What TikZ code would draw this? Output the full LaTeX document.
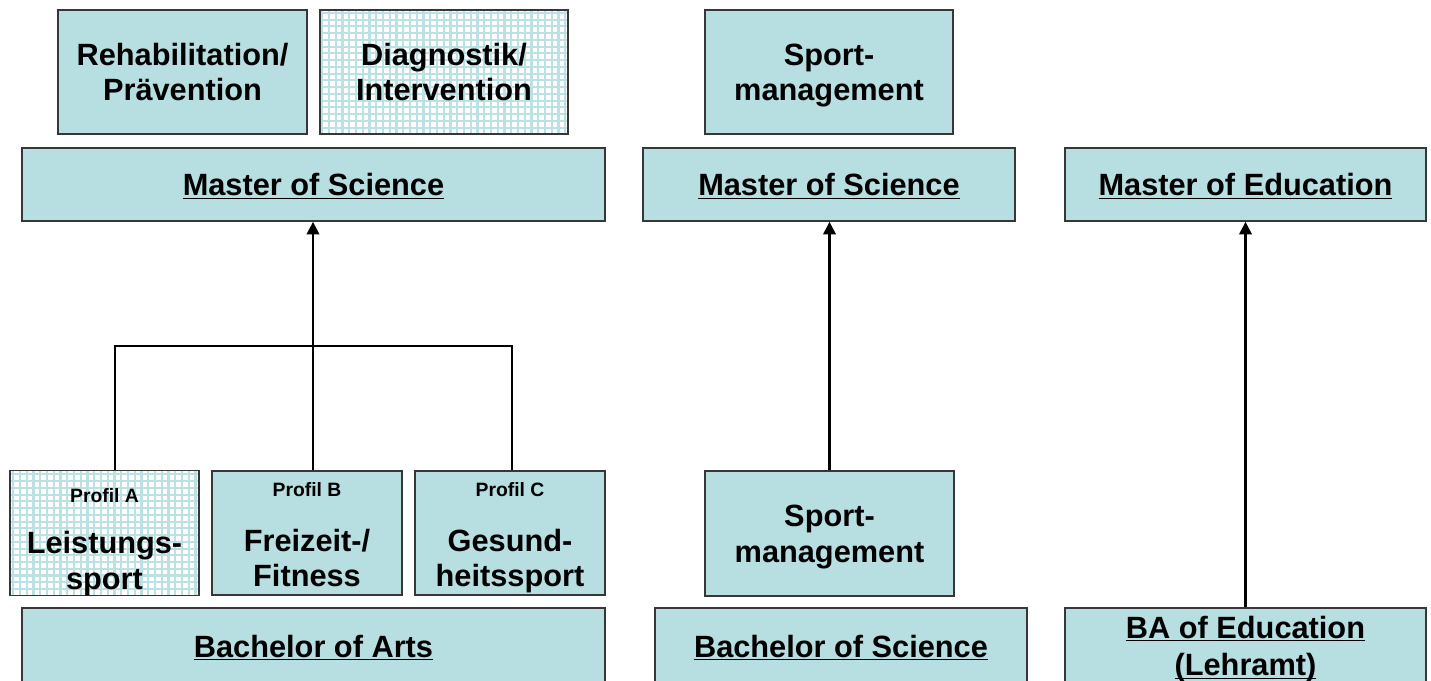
\documentclass[tikz,border=0pt]{standalone}
\usepackage{fontspec}
\setmainfont{Liberation Sans}
\usetikzlibrary{arrows.meta}
\definecolor{boxfill}{RGB}{183,222,225}
\definecolor{boxline}{RGB}{55,55,55}
\definecolor{gridline}{RGB}{188,225,228}
\newcommand{\bigfont}{\fontsize{17.5}{20}\selectfont\bfseries\lineskiplimit=-100pt}
\newcommand{\tagfont}{\fontsize{11}{13}\selectfont\bfseries}
% line strut, so that every line sits as in a slide text box
\newcommand{\ls}{\rule[-0.212em]{0pt}{1.14em}}
% underline close to the baseline, also under descenders
\newcommand{\ul}[1]{\underline{\smash{#1}}}
\tikzset{
        degree/.style={draw=boxline, line width=1pt, fill=boxfill, align=center, inner sep=0pt, font=\bigfont},
        checkered/.style={fill=white, path picture={\draw[gridline, line width=1.2pt] (path picture bounding box.south west) grid[step=0.135cm] (path picture bounding box.north east);}},
        topbox/.style={degree, minimum width=4.97cm, minimum height=2.48cm},
        masterbox/.style={degree, minimum height=1.46cm},
        profbox/.style={degree, minimum width=3.8cm, minimum height=2.48cm},
        bachbox/.style={degree, minimum height=1.52cm},
        connect/.style={draw=black, line width=1.3pt},
        lead/.style={connect, -{Triangle[width=0.25cm,length=0.25cm]}}
          }
\begin{document}
\begin{tikzpicture}[x=0.02cm,y=-0.02cm]
        \useasboundingbox (0,0) rectangle (1431,680);
        % specialisations
        \node[topbox] (reha) at (182.5,72) {\ls Rehabilitation/\\\ls Prävention};
        \node[topbox, checkered] (diag) at (444,72) {\ls Diagnostik/\\\ls Intervention};
        \node[topbox] (smtop) at (829,72) {\ls Sport-\\\ls management};
        % master degrees
        \node[masterbox, minimum width=11.66cm] (msc1) at (313.5,184.5) {\ls\ul{Master of Science}};
        \node[masterbox, minimum width=7.44cm] (msc2) at (829,184.5) {\ls\ul{Master of Science}};
        \node[masterbox, minimum width=7.22cm] (med) at (1245.5,184.5) {\ls\ul{Master of Education}};
        % profiles
        \node[profbox, checkered, minimum width=3.78cm] (profA) at (104.5,533) {{\tagfont\rule{0pt}{18pt}Profil A}\\[9.5pt]\ls Leistungs-\\\ls sport};
        \node[profbox] (profB) at (307,533) {{\tagfont\rule{0pt}{13pt}Profil B}\\[11.2pt]\ls Freizeit-/\\\ls Fitness};
        \node[profbox] (profC) at (510,533) {{\tagfont\rule{0pt}{13pt}Profil C}\\[11.2pt]\ls Gesund-\\\ls heitssport};
        \node[topbox, minimum width=4.98cm, minimum height=2.5cm] (smbot) at (829.5,533.5) {\ls Sport-\\\ls management};
        % bachelor degrees
        \node[bachbox, minimum width=11.66cm] (ba) at (313.5,646) {\ls\ul{Bachelor of Arts}};
        \node[bachbox, minimum width=7.44cm] (bsc) at (841,646) {\ls\ul{Bachelor of Science}};
        \node[bachbox, minimum width=7.22cm] (baed) at (1245.5,646) {\ls\ul{BA of Education}\\[1.6pt]\ls\ul{(Lehramt)}};
        % connectors
        \coordinate (split) at (313,346);
        \draw[connect] ([xshift=0.21cm]profA.north) |- (split) -| ([xshift=0.04cm]profC.north);
        \draw[lead] ([xshift=0.12cm]profB.north) -- ([xshift=0.12cm]profB.north |- msc1.south);
        \draw[lead] (smbot.north) -- (smbot.north |- msc2.south);
        \draw[lead] (baed.north) -- (med.south);
\end{tikzpicture}
\end{document}
